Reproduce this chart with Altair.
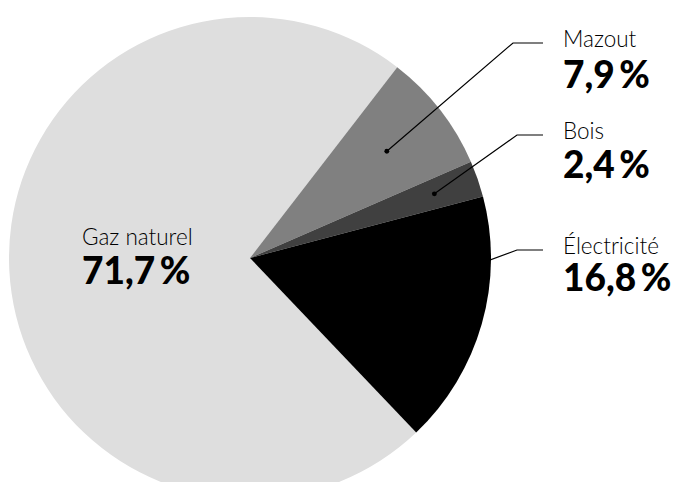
import math
import altair as alt
import pandas as pd

# ---- data ----
categories = ["Gaz naturel", "Mazout", "Bois", "Électricité"]
values = [71.7, 7.9, 2.4, 16.8]
value_labels = ["71,7\u2009%", "7,9\u2009%", "2,4\u2009%", "16,8\u2009%"]
colors = ["#dedede", "#808080", "#404040", "#000000"]

# ---- layout (pixels in chart coordinates) ----
W, H = 664, 474
CX, CY, R = 242, 250, 241
THETA0 = math.radians(136.4)
DOT_RADIUS_FRAC = {"Mazout": 0.72, "Bois": 0.81, "Électricité": 0.60}
LABEL_X = {"Gaz naturel": 74, "Mazout": 555, "Bois": 555, "Électricité": 555}
NAME_Y = {"Gaz naturel": 237, "Mazout": 39, "Bois": 131, "Électricité": 246}
NUM_Y = {"Gaz naturel": 276, "Mazout": 80, "Bois": 170, "Électricité": 283}
KNEE_X = {"Mazout": 505, "Bois": 509, "Électricité": 509}
LINE_END_X = 535

df = pd.DataFrame({"cat": categories, "val": values, "lab": value_labels,
                   "ord": range(len(categories))})

total = sum(values)
cum = 0.0
dots, lines, texts = [], [], []
for c, v, lab in zip(categories, values, value_labels):
    mid = (cum + v / 2) / total
    cum += v
    texts.append({"cat": c, "name": c, "num": lab,
                  "x": LABEL_X[c], "ny": NAME_Y[c], "vy": NUM_Y[c]})
    if c not in DOT_RADIUS_FRAC:
        continue
    ang = THETA0 + 2 * math.pi * mid
    r = R * DOT_RADIUS_FRAC[c]
    px = CX + r * math.sin(ang)
    py = CY - r * math.cos(ang)
    dots.append({"cat": c, "x": px, "y": py})
    ky = NAME_Y[c] - 4
    lines += [{"cat": c, "i": 0, "x": px, "y": py},
              {"cat": c, "i": 1, "x": KNEE_X[c], "y": ky},
              {"cat": c, "i": 2, "x": LINE_END_X, "y": ky}]

dots_df = pd.DataFrame(dots)
lines_df = pd.DataFrame(lines)
texts_df = pd.DataFrame(texts)

pie = alt.Chart(df).mark_arc(outerRadius=R, stroke=None).encode(
    theta=alt.Theta("val:Q", stack=True,
                    scale=alt.Scale(range=[THETA0, THETA0 + 2 * math.pi])),
    color=alt.Color("cat:N", scale=alt.Scale(domain=categories, range=colors), legend=None),
    order=alt.Order("ord:Q"),
    x=alt.value(CX),
    y=alt.value(CY),
)

lead = alt.Chart(lines_df).mark_line(color="black", strokeWidth=1.2).encode(
    x=alt.X("x:Q", scale=None, axis=None),
    y=alt.Y("y:Q", scale=None, axis=None),
    detail="cat:N",
    order="i:Q",
)

pts = alt.Chart(dots_df).mark_circle(color="black", opacity=1, size=24).encode(
    x=alt.X("x:Q", scale=None, axis=None),
    y=alt.Y("y:Q", scale=None, axis=None),
)

names = alt.Chart(texts_df).mark_text(
    align="left", baseline="alphabetic", font="Lato", fontSize=22.5,
    fontWeight=300, color="black").encode(
    x=alt.X("x:Q", scale=None, axis=None),
    y=alt.Y("ny:Q", scale=None, axis=None),
    text="name:N",
)

nums = alt.Chart(texts_df).mark_text(
    align="left", baseline="alphabetic", font="Lato", fontSize=37,
    fontWeight=900, color="black").encode(
    x=alt.X("x:Q", scale=None, axis=None),
    y=alt.Y("vy:Q", scale=None, axis=None),
    text="num:N",
)

chart = alt.layer(pie, lead, pts, names, nums).properties(
    width=W, height=H, padding=0,
    autosize=alt.AutoSizeParams(type="none"),
).configure_view(stroke=None)

chart.save("out.html", embed_options={"renderer": "svg", "actions": False})
